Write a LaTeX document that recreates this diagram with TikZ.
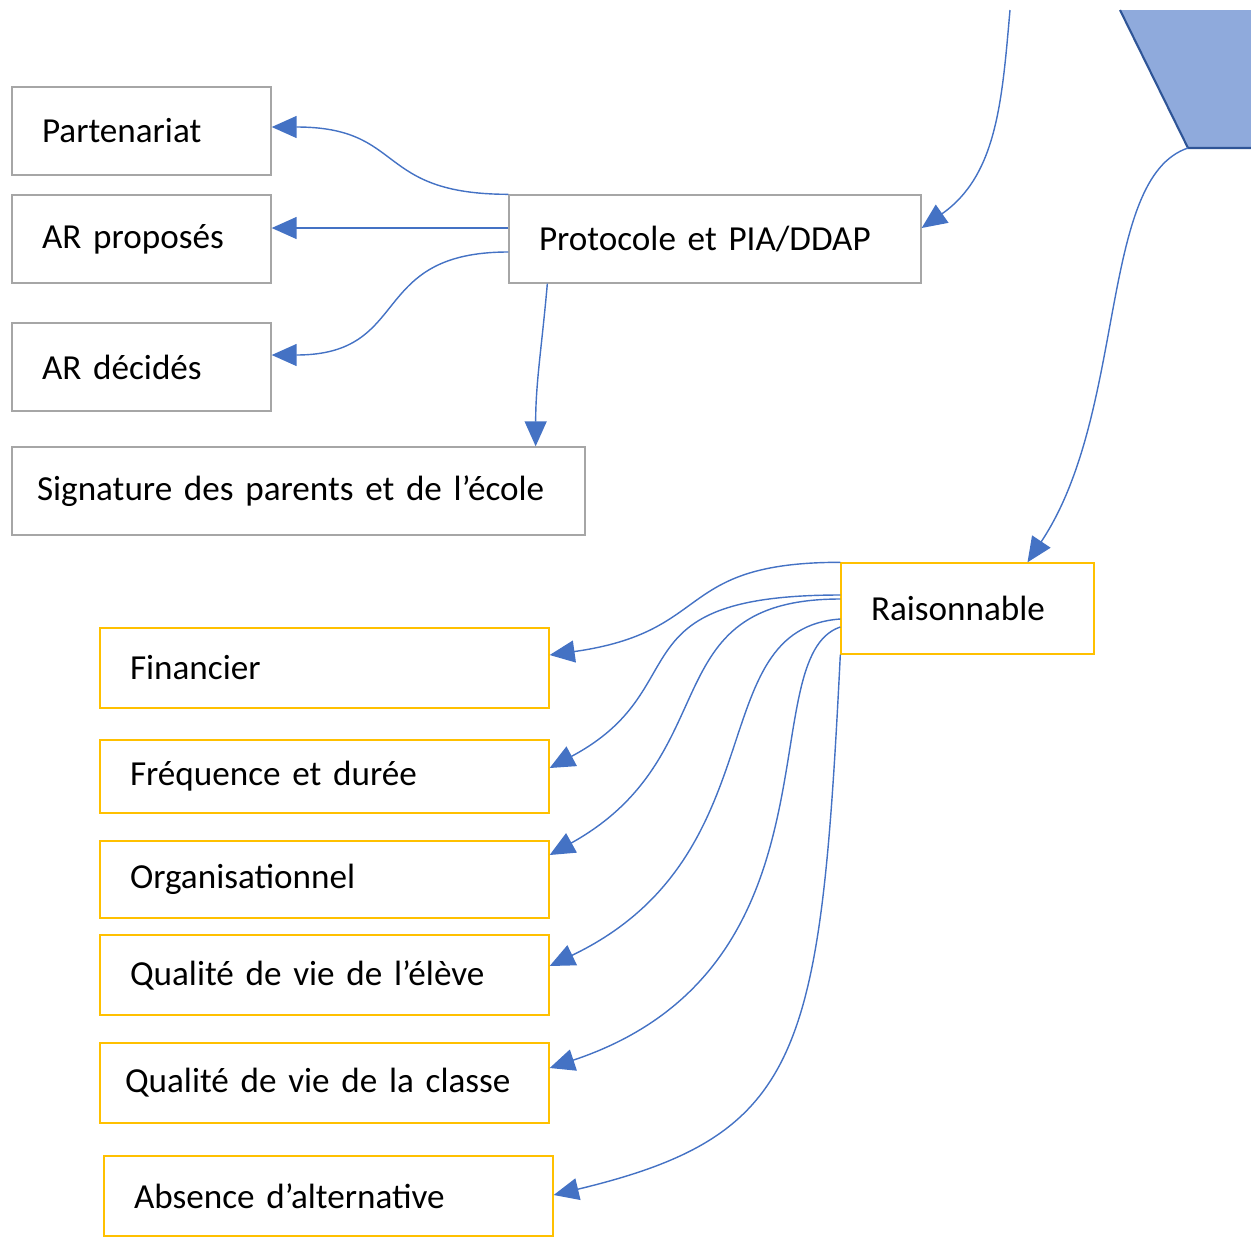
\documentclass[tikz,border=0pt]{standalone}
\usepackage{fontspec}
\setmainfont{Carlito}
\usetikzlibrary{arrows.meta}
\definecolor{linkblue}{HTML}{4472C4}
\definecolor{boxgray}{HTML}{A6A6A6}
\definecolor{boxyellow}{HTML}{FFC000}
\definecolor{shapefill}{HTML}{8FAADC}
\definecolor{shapeline}{HTML}{2F5597}
\tikzset{
  boxnode/.style = {rectangle, align=left, inner xsep=0.6cm, inner ysep=0pt,
    font=\fontsize{20}{24}\selectfont, line width=0.8pt},
  box_g/.style = {boxnode, draw=boxgray, minimum height=1.76cm},
  box_y/.style = {boxnode, draw=boxyellow, minimum height=1.6cm,
    text width=7.78cm},
  link/.style = {->, draw=linkblue, line width=0.8pt}
}

\begin{document}
\begin{tikzpicture}[x=0.02cm,y=-0.02cm,>={Triangle[length=0.5cm,width=0.44cm]}]
  \useasboundingbox (0,0) rectangle (1251,1238);
  % shape in the corner
  \coordinate (topin) at (1010,10);
  \coordinate (hexcorner) at (1188,148);
  \fill[shapefill] (1120,10) -- (hexcorner) -- (1251,148) -- (1251,10) -- cycle;
  \draw[shapeline, line width=1.2pt] (1120,10) -- (hexcorner) -- (1251,148);
  % grey boxes
  \node [box_g, text width=3.98cm] (part) at (141.5,131) {Partenariat};
  \node [box_g, text width=3.98cm] (prop) at (141.5,239) {AR proposés};
  \node [box_g, text width=3.98cm] (dec) at (141.5,367) {AR décidés};
  \node [box_g, text width=10.46cm, inner xsep=0.5cm] (sig) at (298.5,491) {Signature des parents et de l’école};
  \node [box_g, text width=7.04cm] (proto) at (715,239) {Protocole et PIA/DDAP};
  % yellow boxes
  \node [box_y, text width=3.86cm, minimum height=1.82cm] (rais) at (967.5,608.5) {Raisonnable};
  \node [box_y] (fin) at (324.5,668) {Financier};
  \node [box_y, minimum height=1.46cm] (freq) at (324.5,776.5) {Fréquence et durée};
  \node [box_y, minimum height=1.54cm] (org) at (324.5,879.5) {Organisationnel};
  \node [box_y] (qel) at (324.5,975) {Qualité de vie de l’élève};
  \node [box_y, text width=7.98cm, inner xsep=0.5cm] (qcl) at (324.5,1083) {Qualité de vie de la classe};
  \node [box_y] (abs) at (328.5,1196) {Absence d’alternative};
  % links
  \draw[link] (topin) to[out=-95,in=35] ([yshift=0.22cm]proto.east);
  \draw[link] (hexcorner) .. controls +(-90,30) and +(100,-150) .. ([xshift=1.2cm]rais.north);
  \draw[link] (proto.north west) to[out=180,in=0,looseness=1.4] ([yshift=0.08cm]part.east);
  \draw[link] ([yshift=0.22cm]proto.west) -- ([yshift=0.22cm]prop.east);
  \draw[link] ([yshift=-0.26cm]proto.west) to[out=180,in=0,looseness=1.4] ([yshift=0.24cm]dec.east);
  \draw[link] ([xshift=0.78cm]proto.south west) to[out=-95,in=90] ([xshift=-1cm]sig.north east);
  \draw[link] (rais.north west) to[out=180,in=8,looseness=1.4] ([yshift=0.26cm]fin.east);
  \draw[link] ([yshift=0.27cm]rais.west) .. controls +(-230,0) and +(150,-80) .. ([yshift=0.17cm]freq.east);
  \draw[link] ([yshift=0.19cm]rais.west) .. controls +(-190,0) and +(180,-100) .. ([yshift=0.49cm]org.east);
  \draw[link] ([yshift=-0.21cm]rais.west) .. controls +(-140,10) and +(230,-110) .. ([yshift=0.18cm]qel.east);
  \draw[link] ([yshift=-0.37cm]rais.west) .. controls +(-90,30) and +(300,-100) .. ([yshift=0.3cm]qcl.east);
  \draw[link] (rais.south west) .. controls +(-20,400) and +(250,-60) .. ([yshift=0.02cm]abs.east);
\end{tikzpicture}
\end{document}
